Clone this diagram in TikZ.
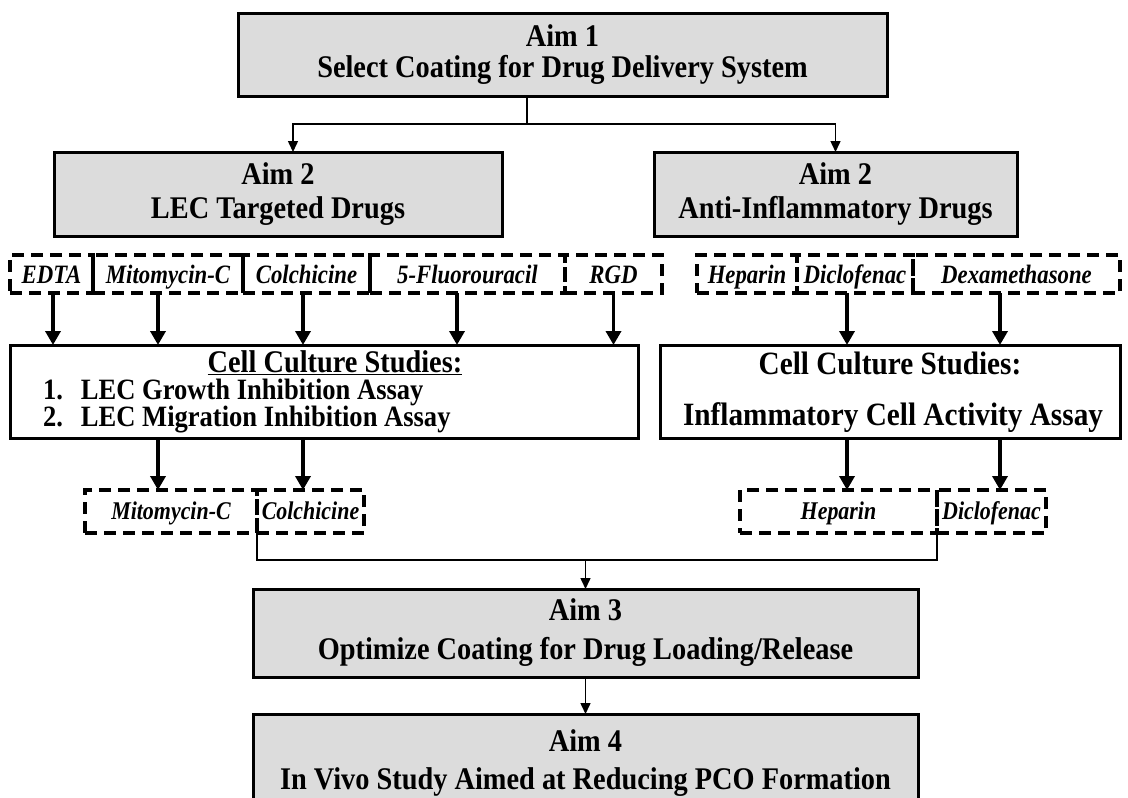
\documentclass[tikz,border=0pt]{standalone}
\usepackage{fontspec}
\setmainfont{Liberation Serif}
\newfontfamily\titlefont{Liberation Serif}[FakeStretch=0.9]
\newfontfamily\drugfont{Liberation Serif}[FakeStretch=0.86]
\usetikzlibrary{arrows.meta,calc}
\definecolor{boxgray}{HTML}{DCDCDC}
\tikzset{
  every node/.style={inner sep=0pt, outer sep=0pt},
  aimbox/.style={draw, line width=3pt, fill=boxgray, align=center, font=\titlefont\fontsize{31.5}{#1}\selectfont\bfseries},
  aimbox/.default=33,
  cellbox/.style={draw, line width=3pt, fill=white},
  drugbox/.style={draw, line width=3.5pt, dash pattern=on 12pt off 7pt},
  celltext/.style={font=\titlefont\fontsize{31.5}{33}\selectfont\bfseries, anchor=base},
  thinln/.style={line width=1.5pt},
  thinarr/.style={line width=1.5pt, -{Triangle[width=10pt,length=11pt]}},
  bigarr/.style={line width=3.5pt, -{Triangle[width=15pt,length=14pt]}},
}
\begin{document}
\begin{tikzpicture}[x=1pt,y=-1pt]
\useasboundingbox (0,0) rectangle (1128,798);
\clip (0,0) rectangle (1128,798);
% Aim boxes
\node[aimbox=31, minimum width=649pt, minimum height=83pt] (aim1) at (562.5,54.5) {Aim 1\\Select Coating for Drug Delivery System};
\node[aimbox=34, minimum width=448pt, minimum height=84pt] (aim2l) at (278,194) {Aim 2\\LEC Targeted Drugs};
\node[aimbox=34, minimum width=363pt, minimum height=84pt] (aim2r) at (835.5,194) {Aim 2\\Anti-Inflammatory Drugs};
\node[aimbox=39, minimum width=665pt, minimum height=88pt] (aim3) at (585.5,633) {Aim 3\\Optimize Coating for Drug Loading/Release};
\node[aimbox=38, minimum width=665pt, minimum height=98pt] (aim4) at (585.5,763) {Aim 4\\In Vivo Study Aimed at Reducing PCO Formation};
% top drug row
\tikzset{toprow/.style={drugbox, minimum height=38pt, text height=21pt, text depth=2pt, font=\drugfont\fontsize{26.5}{28}\selectfont\bfseries\itshape}}
\node[toprow, minimum width=83pt] (edta) at (51.5,274) {EDTA};
\node[toprow, minimum width=150pt] (mito) at (168,274) {Mitomycin-C};
\node[toprow, minimum width=127pt] (colch) at (306.5,274) {Colchicine};
\node[toprow, minimum width=195pt] (fu) at (467.5,274) {5-Fluorouracil};
\node[toprow, minimum width=97pt] (rgd) at (613.5,274) {RGD};
\node[toprow, minimum width=100pt] (hep) at (747,274) {Heparin};
\node[toprow, minimum width=116pt] (diclo) at (855,274) {Diclofenac};
\node[toprow, minimum width=207pt] (dexa) at (1016.5,274) {Dexamethasone};
% cell culture boxes
\node[cellbox, minimum width=628pt, minimum height=93pt] (cellL) at (324,391.5) {};
\node[cellbox, minimum width=460pt, minimum height=93pt] (cellR) at (890,391.5) {};
\node[celltext] (cellLt) at (335,372) {\underline{Cell Culture Studies:}};
\node[celltext, anchor=base west, font=\titlefont\fontsize{29.5}{30}\selectfont\bfseries] (cellL1) at (43,399) {\makebox[38pt][l]{1.}LEC Growth Inhibition Assay};
\node[celltext, anchor=base west, font=\titlefont\fontsize{29.5}{30}\selectfont\bfseries] (cellL2) at (43,426) {\makebox[38pt][l]{2.}LEC Migration Inhibition Assay};
\node[celltext, font=\titlefont\fontsize{32.5}{33}\selectfont\bfseries] (cellRt) at (890,374) {Cell Culture Studies:};
\node[celltext, font=\titlefont\fontsize{32.5}{33}\selectfont\bfseries] (cellRb) at (893,425) {Inflammatory Cell Activity Assay};
% bottom drug row
\tikzset{botrow/.style={drugbox, minimum height=43pt, text height=17pt, text depth=2pt, font=\drugfont\fontsize{25.5}{27}\selectfont\bfseries\itshape}}
\node[botrow, minimum width=172pt] (mito2) at (171,511.5) {Mitomycin-C};
\node[botrow, minimum width=107pt] (colch2) at (310.5,511.5) {Colchicine};
\node[botrow, minimum width=197pt] (hep2) at (838.5,511.5) {Heparin};
\node[botrow, minimum width=109pt] (diclo2) at (991.5,511.5) {Diclofenac};
% Aim1 -> Aim2
\coordinate (j1) at (527,124);
\draw[thinln] (aim1.south -| j1) -- (j1);
\draw[thinarr] (j1) -| ([xshift=15pt]aim2l.north);
\draw[thinarr] (j1) -| (aim2r.north);
% drugs -> cell culture
\draw[bigarr] ([xshift=1.5pt]edta.south) -- ([xshift=1.5pt]edta.south |- cellL.north);
\draw[bigarr] ([xshift=-10pt]mito.south) -- ([xshift=-10pt]mito.south |- cellL.north);
\draw[bigarr] ([xshift=-3.5pt]colch.south) -- ([xshift=-3.5pt]colch.south |- cellL.north);
\draw[bigarr] ([xshift=-10.5pt]fu.south) -- ([xshift=-10.5pt]fu.south |- cellL.north);
\draw[bigarr] (rgd.south) -- (rgd.south |- cellL.north);
\draw[bigarr] ([xshift=-8pt]diclo.south) -- ([xshift=-8pt]diclo.south |- cellR.north);
\draw[bigarr] ([xshift=-16.5pt]dexa.south) -- ([xshift=-16.5pt]dexa.south |- cellR.north);
% cell culture -> selected drugs
\draw[bigarr] ([xshift=-10pt]mito.south |- cellL.south) -- ([xshift=-10pt]mito.south |- mito2.north);
\draw[bigarr] ([xshift=-3.5pt]colch.south |- cellL.south) -- ([xshift=-3.5pt]colch.south |- colch2.north);
\draw[bigarr] ([xshift=-8pt]diclo.south |- cellR.south) -- ([xshift=-8pt]diclo.south |- hep2.north);
\draw[bigarr] ([xshift=-16.5pt]dexa.south |- cellR.south) -- ([xshift=-16.5pt]dexa.south |- diclo2.north);
% merge -> Aim3
\coordinate (mj) at ($(mito2.south east)+(0,27)$);
\draw[thinln] (mito2.south east) -- (mj) -| (hep2.south east);
\draw[thinarr] (mj -| aim3.north) -- (aim3.north);
% Aim3 -> Aim4
\draw[thinarr] (aim3.south) -- (aim4.north);
\end{tikzpicture}
\end{document}
